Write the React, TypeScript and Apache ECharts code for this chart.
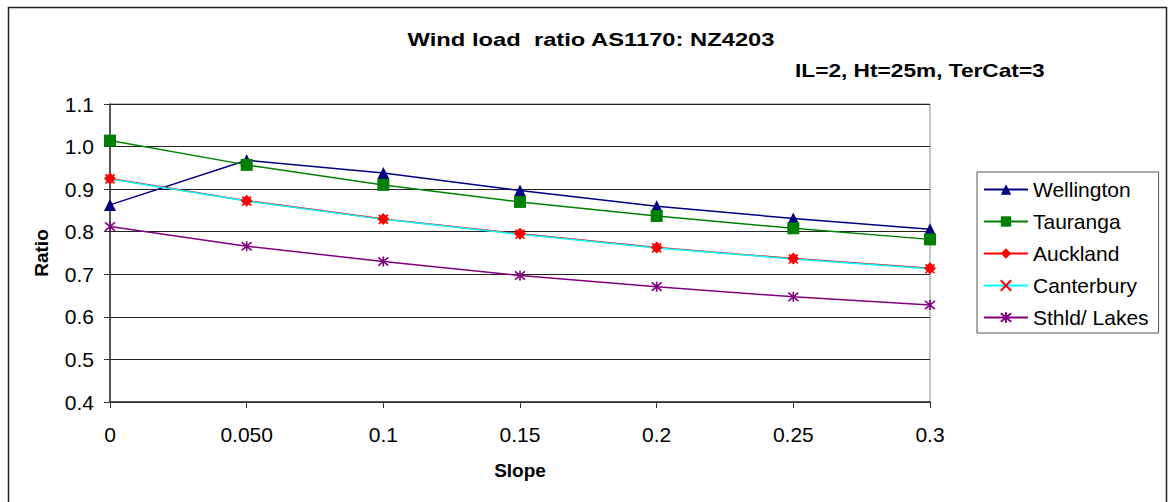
import React, { useEffect, useRef } from "react";
import * as echarts from "echarts";

const slopes = ["0", "0.050", "0.1", "0.15", "0.2", "0.25", "0.3"];
const wellington = [0.863, 0.968, 0.938, 0.897, 0.860, 0.831, 0.806];
const tauranga = [1.014, 0.957, 0.910, 0.870, 0.837, 0.808, 0.782];
const auckland = [0.925, 0.873, 0.830, 0.795, 0.763, 0.737, 0.714];
const canterbury = [0.924, 0.872, 0.829, 0.794, 0.762, 0.736, 0.713];
const sthldLakes = [0.812, 0.766, 0.730, 0.697, 0.671, 0.647, 0.628];

const titleText = "Wind load  ratio AS1170: NZ4203";
const subtitleText = "IL=2, Ht=25m, TerCat=3";

const FONT = "Arial, 'Liberation Sans', Helvetica, sans-serif";
const xPath = "path://M0 0 L10 10 M10 0 L0 10";
const starPath = "path://M0 0 L10 10 M10 0 L0 10 M5 -1 L5 11";

export default function App() {
  const ref = useRef<HTMLDivElement>(null);
  useEffect(() => {
    if (!ref.current) return;
    const chart = echarts.init(ref.current, undefined, { renderer: "svg" });
    const mk = (name: string, data: number[], color: string, symbol: string, symbolColor: string, stroke: boolean, size: number) => ({
      name,
      type: "line",
      data,
      symbol,
      symbolSize: size,
      lineStyle: { color, width: 1.5 },
      itemStyle: stroke
        ? { color: symbolColor, borderColor: symbolColor, borderWidth: 1.6 }
        : { color: symbolColor, borderWidth: 0 },
      emphasis: { disabled: true },
    });
    chart.setOption({
      animation: false,
      backgroundColor: "#fff",
      textStyle: { fontFamily: FONT },
      graphic: [
        {
          type: "rect",
          shape: { x: 8.5, y: 7.5, width: 1158, height: 520 },
          style: { fill: "none", stroke: "#222", lineWidth: 1.5 },
          silent: true,
        },
        {
          type: "text",
          x: 591,
          y: 40,
          scaleX: 1.25,
          style: {
            text: titleText,
            fontFamily: FONT,
            fontSize: 19,
            fontWeight: "bold",
            fill: "#000",
            align: "center",
            verticalAlign: "middle",
          },
          silent: true,
        },
        {
          type: "text",
          x: 795,
          y: 70,
          scaleX: 1.26,
          style: {
            text: subtitleText,
            fontFamily: FONT,
            fontSize: 18,
            fontWeight: "bold",
            fill: "#000",
            align: "left",
            verticalAlign: "middle",
          },
          silent: true,
        },
      ],
      legend: {
        orient: "vertical",
        left: 977,
        top: 172,
        padding: [7, 10, 5, 6],
        itemGap: 11,
        itemWidth: 44,
        itemHeight: 13,
        borderColor: "#555",
        borderWidth: 1,
        textStyle: { fontFamily: FONT, fontSize: 21, color: "#000" },
        data: ["Wellington", "Tauranga", "Auckland", "Canterbury", "Sthld/ Lakes"],
      },
      grid: {
        left: 110,
        right: 1173 - 930,
        top: 104,
        bottom: 502 - 402,
        show: true,
        borderColor: "#888",
        borderWidth: 1,
      },
      xAxis: {
        type: "category",
        data: slopes,
        boundaryGap: false,
        name: "Slope",
        nameLocation: "middle",
        nameGap: 59,
        nameTextStyle: { fontFamily: FONT, fontSize: 19, fontWeight: "bold", color: "#000" },
        axisLine: { lineStyle: { color: "#333", width: 1.5 } },
        axisTick: { show: true, length: 6, alignWithLabel: true, lineStyle: { color: "#333" } },
        axisLabel: { fontFamily: FONT, fontSize: 21, color: "#000", margin: 22 },
        splitLine: { show: false },
      },
      yAxis: {
        type: "value",
        min: 0.4,
        max: 1.1,
        interval: 0.1,
        name: "Ratio",
        nameLocation: "middle",
        nameGap: 59,
        nameTextStyle: { fontFamily: FONT, fontSize: 19, fontWeight: "bold", color: "#000" },
        axisLine: { show: true, lineStyle: { color: "#333", width: 1.5 } },
        axisTick: { show: true, length: 6, lineStyle: { color: "#333" } },
        axisLabel: {
          fontFamily: FONT,
          fontSize: 21,
          color: "#000",
          margin: 16,
          formatter: (v: number) => v.toFixed(1),
        },
        splitLine: { show: true, lineStyle: { color: "#222", width: 1 } },
      },
      series: [
        mk("Wellington", wellington, "#000080", "triangle", "#000080", false, 12),
        mk("Tauranga", tauranga, "#008000", "rect", "#008000", false, 12),
        mk("Auckland", auckland, "#ff0000", "diamond", "#ff0000", false, 12),
        mk("Canterbury", canterbury, "#00ffff", xPath, "#ff0000", true, 9),
        mk("Sthld/ Lakes", sthldLakes, "#800080", starPath, "#800080", true, 10),
      ],
    });
    return () => chart.dispose();
  }, []);
  return (
    <div
      ref={ref}
      style={{ position: "absolute", left: 0, top: 0, width: 1173, height: 502 }}
    />
  );
}
